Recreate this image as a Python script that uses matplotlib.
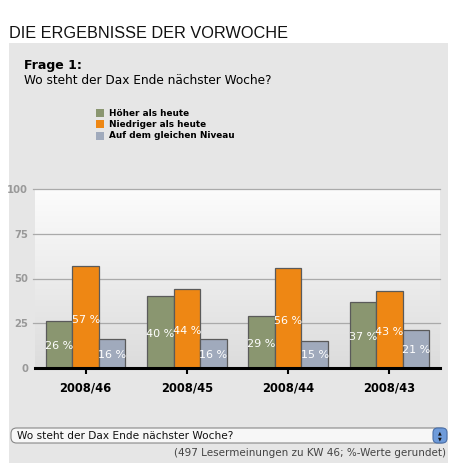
import numpy as np
import matplotlib
matplotlib.use("Agg")
import matplotlib.pyplot as plt
from matplotlib.patches import Rectangle, FancyBboxPatch

weeks = ["2008/46", "2008/45", "2008/44", "2008/43"]
series_names = ["Höher als heute", "Niedriger als heute", "Auf dem gleichen Niveau"]
hoeher = [26, 40, 29, 37]
niedriger = [57, 44, 56, 43]
gleich = [16, 16, 15, 21]
yticks = [0, 25, 50, 75, 100]

colors = ["#8A9670", "#EE8714", "#A0AABC"]

W, H = 462, 473
fig = plt.figure(figsize=(W / 100, H / 100), dpi=100)
fig.patch.set_facecolor("white")


def fx(px):
    return px / W


def fy(py):
    return 1 - py / H


# grey panel
fig.patches.append(Rectangle((fx(9), fy(463)), fx(448) - fx(9), fy(43) - fy(463),
                             transform=fig.transFigure, facecolor="#E6E6E6",
                             edgecolor="none", zorder=-5))

fig.text(fx(9), fy(33), "DIE ERGEBNISSE DER VORWOCHE", fontsize=11.7,
         family="Liberation Sans", color="#111111", va="center", ha="left")
fig.text(fx(24), fy(66), "Frage 1:", fontsize=9, fontweight="bold",
         family="DejaVu Sans", va="center", ha="left")
fig.text(fx(24), fy(81), "Wo steht der Dax Ende nächster Woche?", fontsize=8.7,
         family="DejaVu Sans", va="center", ha="left")

# legend
for i, (name, c) in enumerate(zip(series_names, colors)):
    ycen = 113 + i * 11.3
    fig.patches.append(Rectangle((fx(96), fy(ycen + 4)), fx(104) - fx(96), fy(ycen - 4) - fy(ycen + 4),
                                 transform=fig.transFigure, facecolor=c, edgecolor="none"))
    fig.text(fx(109), fy(ycen), name, fontsize=6.4, fontweight="bold",
             family="DejaVu Sans", va="center", ha="left")

# chart
ax = fig.add_axes([fx(35), fy(368), fx(440) - fx(35), fy(189) - fy(368)])
ax.set_zorder(2)
ax.set_facecolor("none")
grad = np.linspace(0, 1, 256).reshape(-1, 1)
ax.imshow(grad, extent=[-0.5, 3.5, 0, 100], aspect="auto", origin="upper",
          cmap=matplotlib.colors.LinearSegmentedColormap.from_list("bg", ["#FCFCFC", "#DCDCDC"]),
          zorder=0)

x = np.arange(len(weeks))
bw = 0.262
for k, (vals, c) in enumerate(zip([hoeher, niedriger, gleich], colors)):
    xs = x + (k - 1) * bw
    ax.bar(xs, vals, width=bw, color=c, edgecolor="#5A5A5A", linewidth=0.9, zorder=3)
    for xi, v in zip(xs, vals):
        ax.text(xi, v * 0.47, f"{v} %", color="white", fontsize=8,
                family="DejaVu Sans", ha="center", va="center", zorder=4)

ax.set_xlim(-0.5, 3.5)
ax.set_ylim(0, 100)
for t in yticks[1:]:
    ax.axhline(t, xmin=-0.005, color="#AAAAAA", linewidth=0.9, zorder=1, clip_on=False)
ax.set_yticks(yticks)
ax.set_yticklabels([str(t) for t in yticks], color="#999999", fontsize=7.2,
                   fontweight="bold", family="DejaVu Sans")
ax.tick_params(axis="y", length=0, pad=5)
ax.set_xticks(x)
ax.set_xticklabels(weeks, fontsize=8.3, fontweight="bold", family="DejaVu Sans")
ax.tick_params(axis="x", length=4, width=1.5, direction="out", pad=6, color="black")
for s in ["top", "right", "left"]:
    ax.spines[s].set_visible(False)
ax.spines["bottom"].set_linewidth(2.2)
ax.spines["bottom"].set_zorder(5)

# dropdown box
fig.patches.append(FancyBboxPatch((fx(11), fy(443)), fx(446) - fx(11), fy(428) - fy(443),
                                  boxstyle="round,pad=0,rounding_size=0.012",
                                  transform=fig.transFigure, facecolor="#F7F7F7",
                                  edgecolor="#888888", linewidth=0.8))
fig.patches.append(FancyBboxPatch((fx(433), fy(443)), fx(447) - fx(433), fy(428) - fy(443),
                                  boxstyle="round,pad=0,rounding_size=0.01",
                                  transform=fig.transFigure, facecolor="#6E9BDA",
                                  edgecolor="#4A6FA8", linewidth=0.8))
fig.text(fx(440), fy(432.5), "▲", fontsize=3.5, color="#111111", ha="center", va="center")
fig.text(fx(440), fy(438.5), "▼", fontsize=3.5, color="#111111", ha="center", va="center")
fig.text(fx(17), fy(435.5), "Wo steht der Dax Ende nächster Woche?", fontsize=7.6,
         family="DejaVu Sans", va="center", ha="left", color="#111111")

fig.text(fx(446), fy(453), "(497 Lesermeinungen zu KW 46; %-Werte gerundet)", fontsize=7.5,
         family="DejaVu Sans", va="center", ha="right", color="#444444")

fig.savefig("out.png", dpi=100)
